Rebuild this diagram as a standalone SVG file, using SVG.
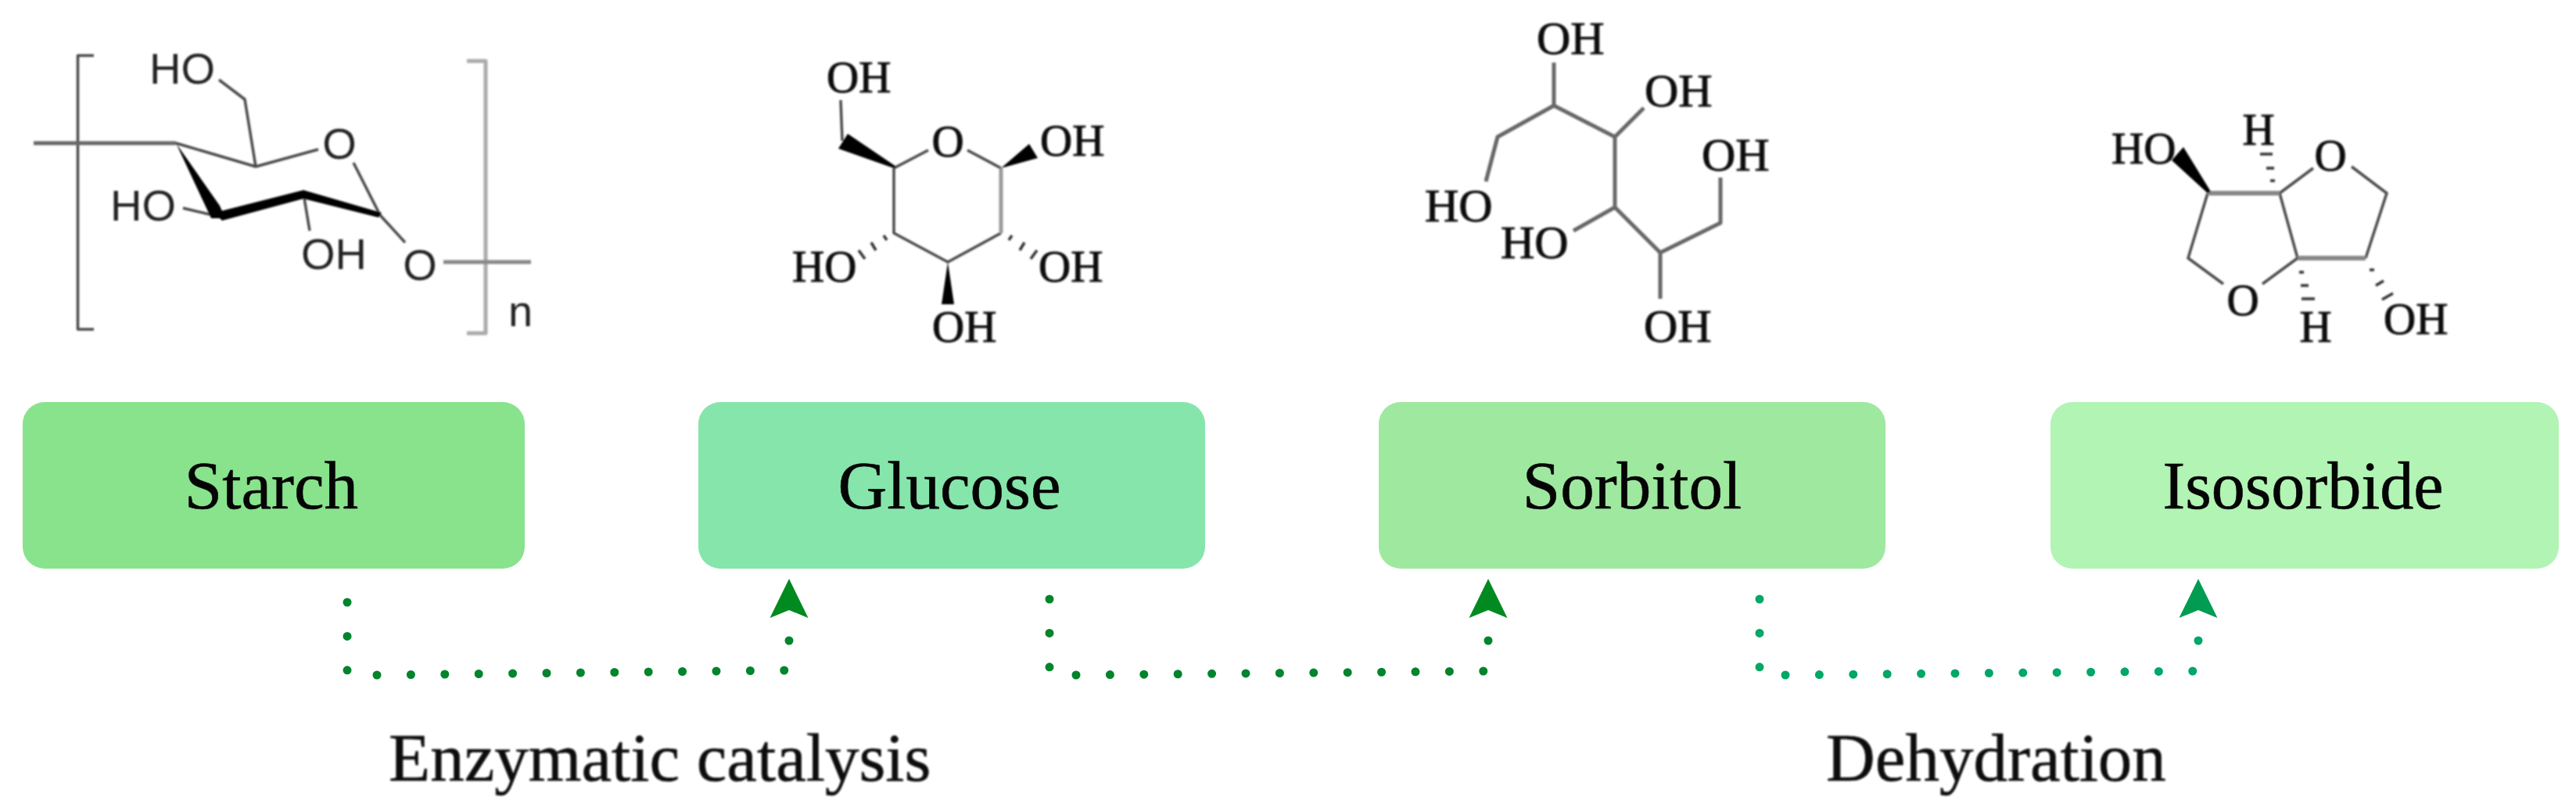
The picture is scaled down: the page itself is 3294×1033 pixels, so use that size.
<svg xmlns="http://www.w3.org/2000/svg" width="3294" height="1033" viewBox="0 0 3294 1033">
<style>
.bg{fill:#fff}
.box{stroke:none}
.lbl{font-family:"Liberation Serif","Times New Roman",serif;font-size:87px;fill:#050505;text-anchor:middle;stroke:#050505;stroke-width:.6}
.cap{font-family:"Liberation Serif","Times New Roman",serif;font-size:87px;fill:#0c0c0c;stroke:#0c0c0c;stroke-width:.6}
.sa{font-family:"Liberation Sans",Arial,sans-serif;font-size:56px;fill:#222}
.se{font-family:"Liberation Serif","Times New Roman",serif;font-size:57px;fill:#111;stroke:#111;stroke-width:1}
.big{font-size:60px}
.b{fill:none;stroke:#4a4a4a;stroke-width:3.5;stroke-linecap:butt;stroke-linejoin:round}
.b2{fill:none;stroke:#666;stroke-width:5;stroke-linejoin:round}
.k{fill:#050505;stroke:none}
.h{fill:none;stroke:#333;stroke-width:3.500}
.dots{fill:none;stroke-width:11;stroke-linecap:round;stroke-dasharray:0 43.4}
.c1{stroke:#00842c}
.c2{stroke:#00a766}
</style>
<defs>
<filter id="soft" x="-5%" y="-5%" width="110%" height="110%"><feGaussianBlur stdDeviation="1"/></filter>
<marker id="a1" markerUnits="userSpaceOnUse" markerWidth="60" markerHeight="60" refX="5" refY="30" orient="auto"><path d="M55 30L5 5.500L15 30L5 54.500Z" fill="#008a20"/></marker>
<marker id="a2" markerUnits="userSpaceOnUse" markerWidth="60" markerHeight="60" refX="5" refY="30" orient="auto"><path d="M55 30L5 5.500L15 30L5 54.500Z" fill="#009c52"/></marker>
</defs>
<rect class="bg" width="3294" height="1033"/>

<g id="starch-structure" filter="url(#soft)">
<path class="b" d="M120 71H99.500V421H120"/>
<path class="b2" style="stroke:#aaa" d="M597 78H621V426H597"/>
<path class="b2" style="stroke:#666" d="M43 183H225"/>
<path class="b2" style="stroke:#888" d="M567 335H679"/>
<path class="b" d="M225 183L327 213L407 191M452 208L486 275L518 310M327 213L313 127L280 102M234 266L280 277M388 247L396 295"/>
<path class="k" d="M225 183L270 279L288 279L281 263Z"/>
<path class="k" d="M274 272L388 243L488 272L484 278L388 254L284 282Z"/>
<text class="sa" x="191" y="107">HO</text>
<text class="sa" x="141" y="282">HO</text>
<text class="sa" x="385" y="344">OH</text>
<text class="sa" x="434" y="203" text-anchor="middle">O</text>
<text class="sa" x="537" y="358" text-anchor="middle">O</text>
<text class="sa" x="650" y="417">n</text>
</g>

<g id="glucose-structure" filter="url(#soft)">
<path class="b" d="M1075 128L1077 180M1143 215L1187 192M1237 192L1280 215M1143 215V298L1212 335L1280 298"/>
<path class="b2" style="stroke:#999" d="M1280 215V298"/>
<path class="k" d="M1143 215L1072 190L1084 171L1146 213Z"/>
<path class="k" d="M1280 215L1316 184L1327 202Z"/>
<path class="k" d="M1212 335L1204 389H1220Z"/>
<path class="h" d="M1130 301L1134 307M1114 310L1120 320M1098 320L1106 331M1294 301L1290 307M1310 310L1304 320M1326 320L1318 331"/>
<text class="se" x="1057" y="118">OH</text>
<text class="se" x="1212" y="200" text-anchor="middle">O</text>
<text class="se" x="1330" y="199">OH</text>
<text class="se" x="1013" y="360">HO</text>
<text class="se" x="1328" y="360">OH</text>
<text class="se" x="1192" y="437">OH</text>
</g>

<g id="sorbitol-structure" filter="url(#soft)">
<path class="b2" d="M1987 80V135L1915 175L1900 232M1987 135L2065 175L2102 138M2065 175V265L2012 295M2065 265L2123 323L2200 285V227M2123 323V382"/>
<text class="se big" x="1965" y="69">OH</text>
<text class="se big" x="2103" y="136">OH</text>
<text class="se big" x="1822" y="283">HO</text>
<text class="se big" x="1919" y="330">HO</text>
<text class="se big" x="2176" y="218">OH</text>
<text class="se big" x="2102" y="437">OH</text>
</g>

<g id="isosorbide-structure" filter="url(#soft)">
<path class="b" d="M2823 247L2798 330L2843 363M2893 363L2938 330L2915 247L2958 215M3007 213L3052 247L3025 330"/>
<path class="b2" style="stroke:#888;stroke-width:6" d="M2823 247H2915M2938 330H3025"/>
<path class="k" d="M2823 247L2777 205L2792 188L2827 245Z"/>
<path class="h" d="M2903 231H2909M2898 215H2908M2890 197H2906M2940 348H2946M2942 365H2952M2943 382H2960M3030 345L3036 345M3038 365L3048 359M3046 383L3060 375"/>
<text class="se" x="2700" y="209">HO</text>
<text class="se" x="2980" y="218" text-anchor="middle">O</text>
<text class="se" x="2868" y="403" text-anchor="middle">O</text>
<text class="se" x="2888" y="185" text-anchor="middle">H</text>
<text class="se" x="2961" y="437" text-anchor="middle">H</text>
<text class="se" x="3048" y="427">OH</text>
</g>

<g id="starch"><rect class="box" x="29" y="514" width="642" height="213" rx="28" fill="#88e38c"/><text class="lbl" x="347" y="650">Starch</text></g>
<g id="glucose"><rect class="box" x="893" y="514" width="648" height="213" rx="28" fill="#86e5ab"/><text class="lbl" x="1214" y="650">Glucose</text></g>
<g id="sorbitol"><rect class="box" x="1763" y="514" width="648" height="213" rx="28" fill="#9fe8a0"/><text class="lbl" x="2087" y="650">Sorbitol</text></g>
<g id="isosorbide"><rect class="box" x="2622" y="514" width="650" height="213" rx="28" fill="#b1f4b4"/><text class="lbl" x="2945" y="650" textLength="359" lengthAdjust="spacingAndGlyphs">Isosorbide</text></g>

<g id="connectors">
<path class="dots c1" marker-end="url(#a1)" d="M444 770V857M482 863L1003.500 857M1009 819V790"/>
<path class="dots c1" marker-end="url(#a1)" d="M1342 766V852.900M1376 863L1897 858M1903 819V790"/>
<path class="dots c2" marker-end="url(#a2)" d="M2250 766V852.900M2283 863L2805 858M2811 819V790"/>
</g>

<g id="captions" filter="url(#soft)">
<text class="cap" x="497" y="998">Enzymatic catalysis</text>
<text class="cap" x="2335" y="998">Dehydration</text>
</g>
</svg>
